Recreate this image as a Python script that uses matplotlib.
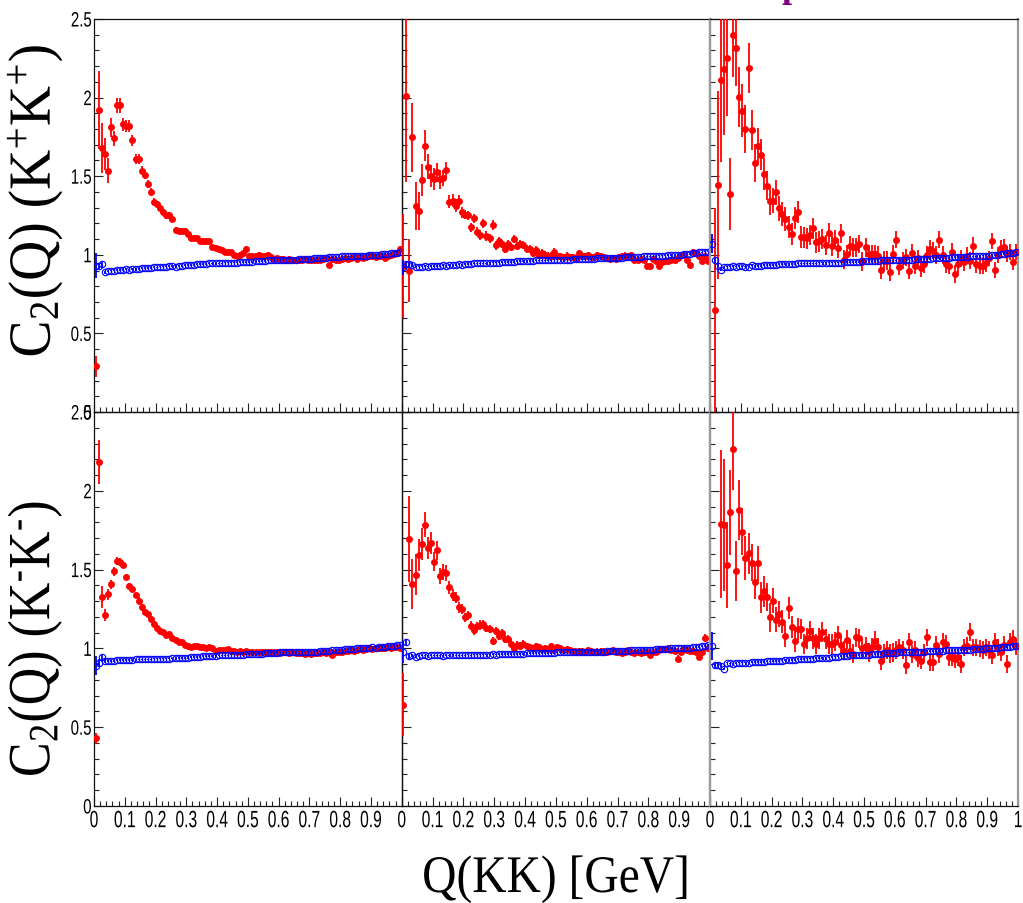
import numpy as np
import matplotlib
matplotlib.use("Agg")
import matplotlib.pyplot as plt
from matplotlib import font_manager
from matplotlib.ticker import MultipleLocator
from matplotlib.patheffects import AbstractPathEffect
from matplotlib.transforms import Affine2D

nan = np.nan

# ---------------- binning (100 bins of 0.01 GeV from 0 to 1) ----------------
bin_edges = np.linspace(0.0, 1.0, 101)
q_centers = 0.5 * (bin_edges[:-1] + bin_edges[1:])

# ---------------- K+K+ , column 1 ----------------
kpkp_c1_data = [
    0.29, 1.92, 1.68, 1.64, 1.535, 1.81, 1.74, 1.95, 1.95, 1.83,
    1.82, 1.82, 1.73, 1.61, 1.61, 1.535, 1.51, 1.45, 1.40, 1.335,
    1.32, 1.30, 1.275, 1.25, 1.25, 1.23, 1.16, 1.15, 1.15, 1.15,
    1.13, 1.105, 1.11, 1.105, 1.09, 1.09, 1.09, 1.085, 1.05, 1.045,
    1.04, 1.03, 1.02, 1.02, 1.015, 1.00, 0.995, 1.00, 1.01, 1.04,
    0.99, 0.995, 0.995, 1.00, 0.99, 0.99, 1.00, 0.984, 0.975, 0.98,
    0.975, 0.975, 0.97, 0.975, 0.97, 0.965, 0.97, 0.965, 0.975, 0.97,
    0.965, 0.965, 0.97, 0.97, 0.975, 0.98, 0.935, 0.975, 0.97, 0.965,
    0.975, 0.98, 0.975, 0.98, 0.985, 0.975, 0.985, 0.98, 0.985, 0.99,
    0.99, 0.985, 0.995, 0.99, 0.98, 0.995, 1.0, 1.005, 1.01, 1.04]
kpkp_c1_data_err = [
    0.065, 0.25, 0.16, 0.10, 0.08, 0.06, 0.05, 0.05, 0.05, 0.04,
    0.04, 0.04, 0.035, 0.03, 0.03, 0.03, 0.03, 0.025, 0.025, 0.025,
    0.025, 0.02, 0.02, 0.02, 0.02, 0.02, 0.02, 0.02, 0.02, 0.02,
    0.018, 0.018, 0.018, 0.018, 0.018, 0.016, 0.016, 0.016, 0.016, 0.016,
    0.015, 0.015, 0.015, 0.015, 0.015, 0.015, 0.015, 0.015, 0.015, 0.015,
    0.015, 0.015, 0.015, 0.015, 0.015, 0.015, 0.015, 0.015, 0.015, 0.015,
    0.015, 0.015, 0.015, 0.015, 0.015, 0.015, 0.015, 0.015, 0.015, 0.015,
    0.015, 0.015, 0.015, 0.015, 0.015, 0.015, 0.015, 0.015, 0.015, 0.015,
    0.015, 0.015, 0.015, 0.015, 0.015, 0.015, 0.015, 0.015, 0.015, 0.015,
    0.015, 0.015, 0.015, 0.015, 0.015, 0.015, 0.015, 0.015, 0.015, 0.015]
kpkp_c1_ref = [
    0.93, 0.93, 0.94, 0.89, 0.895, 0.90, 0.90, 0.905, 0.905, 0.905,
    0.91, 0.905, 0.91, 0.91, 0.91, 0.915, 0.915, 0.915, 0.915, 0.92,
    0.92, 0.925, 0.925, 0.925, 0.93, 0.93, 0.925, 0.93, 0.93, 0.935,
    0.935, 0.935, 0.935, 0.94, 0.94, 0.94, 0.94, 0.945, 0.945, 0.945,
    0.945, 0.945, 0.95, 0.95, 0.95, 0.95, 0.95, 0.955, 0.955, 0.955,
    0.955, 0.955, 0.96, 0.96, 0.96, 0.96, 0.965, 0.965, 0.965, 0.965,
    0.965, 0.97, 0.97, 0.97, 0.97, 0.97, 0.975, 0.975, 0.975, 0.975,
    0.975, 0.98, 0.98, 0.98, 0.98, 0.98, 0.985, 0.985, 0.985, 0.985,
    0.99, 0.99, 0.99, 0.99, 0.99, 0.995, 0.995, 0.995, 0.995, 1.0,
    1.0, 1.0, 1.0, 1.005, 1.005, 1.005, 1.01, 1.01, 1.01, 1.015]
kpkp_c1_ref_err = [
    0.08, 0.02, 0.015, 0.01, 0.005, 0.005, 0.005, 0.005, 0.005, 0.005,
    0.005, 0.005, 0.005, 0.005, 0.005, 0.005, 0.005, 0.005, 0.005, 0.005,
    0.005, 0.005, 0.005, 0.005, 0.005, 0.005, 0.005, 0.005, 0.005, 0.005,
    0.005, 0.005, 0.005, 0.005, 0.005, 0.005, 0.005, 0.005, 0.005, 0.005,
    0.005, 0.005, 0.005, 0.005, 0.005, 0.005, 0.005, 0.005, 0.005, 0.005,
    0.005, 0.005, 0.005, 0.005, 0.005, 0.005, 0.005, 0.005, 0.005, 0.005,
    0.005, 0.005, 0.005, 0.005, 0.005, 0.005, 0.005, 0.005, 0.005, 0.005,
    0.005, 0.005, 0.005, 0.005, 0.005, 0.005, 0.005, 0.005, 0.005, 0.005,
    0.005, 0.005, 0.005, 0.005, 0.005, 0.005, 0.005, 0.005, 0.005, 0.005,
    0.005, 0.005, 0.005, 0.005, 0.005, 0.005, 0.005, 0.005, 0.005, 0.005]

# ---------------- K+K+ , column 2 ----------------
kpkp_c2_data = [
    0.93, 2.01, 0.90, 1.747, 1.31, 1.28, 1.476, 1.694, 1.56, 1.50,
    1.48, 1.525, 1.48, 1.49, 1.54, 1.338, 1.345, 1.313, 1.345, 1.27,
    1.255, 1.25, 1.175, 1.232, 1.147, 1.126, 1.20, 1.12, 1.105, 1.19,
    1.06, 1.09, 1.07, 1.037, 1.07, 1.05, 1.10, 1.055, 1.07, 1.064,
    1.04, 1.04, 1.011, 1.03, 1.00, 1.01, 0.997, 0.99, 0.99, 1.02,
    0.99, 0.99, 0.985, 0.995, 0.985, 0.985, 0.98, 1.01, 0.995, 0.99,
    1.0, 0.985, 0.985, 1.0, 0.99, 0.985, 0.98, 0.975, 0.98, 0.975,
    0.985, 0.99, 0.995, 0.99, 1.0, 0.97, 0.97, 0.975, 0.97, 0.93,
    0.93, 0.975, 0.96, 0.93, 0.955, 0.96, 0.96, 0.965, 0.97, 0.98,
    1.0, 1.0, 0.965, 0.935, 1.02, 1.01, 0.995, 0.96, 0.99, 0.96]
kpkp_c2_data_err = [
    0.33, 0.55, 0.20, 0.22, 0.15, 0.12, 0.10, 0.10, 0.08, 0.07,
    0.07, 0.06, 0.06, 0.05, 0.05, 0.04, 0.04, 0.04, 0.035, 0.035,
    0.03, 0.03, 0.03, 0.03, 0.03, 0.03, 0.03, 0.03, 0.03, 0.03,
    0.03, 0.025, 0.025, 0.025, 0.025, 0.025, 0.025, 0.025, 0.025, 0.025,
    0.025, 0.025, 0.025, 0.025, 0.025, 0.025, 0.025, 0.025, 0.025, 0.025,
    0.02, 0.02, 0.02, 0.02, 0.02, 0.02, 0.02, 0.02, 0.02, 0.02,
    0.02, 0.02, 0.02, 0.02, 0.02, 0.02, 0.02, 0.02, 0.02, 0.02,
    0.02, 0.02, 0.02, 0.02, 0.02, 0.02, 0.02, 0.02, 0.02, 0.02,
    0.02, 0.02, 0.02, 0.02, 0.02, 0.02, 0.02, 0.02, 0.02, 0.02,
    0.02, 0.02, 0.02, 0.02, 0.02, 0.02, 0.02, 0.02, 0.02, 0.02]
kpkp_c2_ref = [
    0.92, 0.94, 0.94, 0.935, 0.92, 0.925, 0.925, 0.93, 0.925, 0.93,
    0.93, 0.93, 0.93, 0.935, 0.93, 0.935, 0.935, 0.935, 0.94, 0.935,
    0.94, 0.94, 0.94, 0.945, 0.945, 0.945, 0.945, 0.945, 0.95, 0.95,
    0.95, 0.95, 0.955, 0.955, 0.955, 0.955, 0.955, 0.96, 0.96, 0.96,
    0.96, 0.96, 0.96, 0.965, 0.965, 0.965, 0.965, 0.965, 0.965, 0.97,
    0.97, 0.97, 0.97, 0.97, 0.97, 0.972, 0.972, 0.975, 0.975, 0.975,
    0.975, 0.975, 0.975, 0.978, 0.978, 0.98, 0.98, 0.98, 0.98, 0.98,
    0.982, 0.982, 0.985, 0.985, 0.985, 0.985, 0.988, 0.988, 0.99, 0.99,
    0.99, 0.99, 0.992, 0.995, 0.995, 0.995, 0.997, 1.0, 1.0, 1.0,
    1.0, 1.003, 1.005, 1.005, 1.01, 1.01, 1.015, 1.015, 1.02, 1.02]
kpkp_c2_ref_err = [
    0.05, 0.02, 0.015, 0.01, 0.005, 0.005, 0.005, 0.005, 0.005, 0.005,
    0.005, 0.005, 0.005, 0.005, 0.005, 0.005, 0.005, 0.005, 0.005, 0.005,
    0.005, 0.005, 0.005, 0.005, 0.005, 0.005, 0.005, 0.005, 0.005, 0.005,
    0.005, 0.005, 0.005, 0.005, 0.005, 0.005, 0.005, 0.005, 0.005, 0.005,
    0.005, 0.005, 0.005, 0.005, 0.005, 0.005, 0.005, 0.005, 0.005, 0.005,
    0.005, 0.005, 0.005, 0.005, 0.005, 0.005, 0.005, 0.005, 0.005, 0.005,
    0.005, 0.005, 0.005, 0.005, 0.005, 0.005, 0.005, 0.005, 0.005, 0.005,
    0.005, 0.005, 0.005, 0.005, 0.005, 0.005, 0.005, 0.005, 0.005, 0.005,
    0.005, 0.005, 0.005, 0.005, 0.005, 0.005, 0.005, 0.005, 0.005, 0.005,
    0.005, 0.005, 0.005, 0.005, 0.005, 0.005, 0.005, 0.005, 0.005, 0.005]

# ---------------- K+K+ , column 3 ----------------
kpkp_c3_data = [
    nan, 0.65, 1.444, 2.11, 2.18, 2.25, 1.387, 2.40, 2.315, 2.006,
    1.917, 1.80, 2.19, 1.794, 1.582, 1.694, 1.637, 1.514, 1.44, 1.344,
    1.344, 1.397, 1.296, 1.26, 1.228, 1.179, 1.132, 1.232, 1.27, 1.111,
    1.111, 1.105, 1.126, 1.168, 1.079, 1.085, 1.10, 1.062, 1.137, 1.058,
    1.096, 1.041, 1.137, 0.969, 1.005, 1.058, 1.048, 1.048, 1.069, 0.956,
    1.048, 1.005, 1.005, 1.005, 0.994, 0.905, 0.963, 0.963, 0.893, 1.005,
    1.096, 0.925, 0.963, 0.984, 0.899, 1.011, 0.931, 0.977, 0.914, 0.941,
    0.999, 1.037, 1.026, 0.999, 1.096, 0.999, 0.941, 0.931, 1.02, 0.878,
    0.941, 0.977, 0.952, 0.994, 0.963, 1.058, 0.941, 0.931, 0.931, 0.948,
    0.977, 1.09, 0.905, 0.999, 1.041, 1.048, 1.005, 1.016, 0.952, 1.016]
kpkp_c3_data_err = [
    0.0, 0.65, 0.60, 0.52, 0.42, 0.37, 0.23, 0.27, 0.24, 0.19,
    0.17, 0.15, 0.16, 0.13, 0.12, 0.11, 0.10, 0.10, 0.09, 0.09,
    0.08, 0.08, 0.08, 0.075, 0.075, 0.07, 0.07, 0.07, 0.07, 0.07,
    0.065, 0.065, 0.065, 0.065, 0.065, 0.065, 0.065, 0.065, 0.065, 0.065,
    0.06, 0.06, 0.06, 0.06, 0.06, 0.06, 0.06, 0.06, 0.06, 0.06,
    0.06, 0.06, 0.06, 0.06, 0.06, 0.06, 0.06, 0.06, 0.06, 0.06,
    0.055, 0.055, 0.055, 0.055, 0.055, 0.055, 0.055, 0.055, 0.055, 0.055,
    0.055, 0.055, 0.055, 0.055, 0.055, 0.055, 0.055, 0.055, 0.055, 0.055,
    0.055, 0.055, 0.055, 0.055, 0.055, 0.055, 0.055, 0.055, 0.055, 0.055,
    0.05, 0.05, 0.05, 0.05, 0.05, 0.05, 0.05, 0.05, 0.05, 0.05]
kpkp_c3_ref = [
    1.07, 0.967, 0.93, 0.905, 0.92, 0.925, 0.925, 0.93, 0.925, 0.93,
    0.93, 0.925, 0.925, 0.935, 0.93, 0.93, 0.93, 0.935, 0.935, 0.935,
    0.935, 0.935, 0.94, 0.94, 0.94, 0.94, 0.94, 0.94, 0.945, 0.945,
    0.945, 0.945, 0.945, 0.945, 0.945, 0.95, 0.95, 0.95, 0.95, 0.95,
    0.95, 0.95, 0.95, 0.952, 0.955, 0.955, 0.955, 0.955, 0.955, 0.96,
    0.96, 0.96, 0.96, 0.96, 0.96, 0.965, 0.965, 0.965, 0.965, 0.965,
    0.965, 0.97, 0.97, 0.97, 0.97, 0.97, 0.975, 0.975, 0.975, 0.975,
    0.975, 0.975, 0.98, 0.98, 0.98, 0.98, 0.98, 0.98, 0.985, 0.985,
    0.985, 0.985, 0.985, 0.985, 0.99, 0.99, 0.99, 0.99, 0.995, 0.995,
    0.995, 1.0, 1.0, 1.0, 1.005, 1.005, 1.01, 1.01, 1.01, 1.015]
kpkp_c3_ref_err = [
    0.06, 0.02, 0.015, 0.01, 0.008, 0.005, 0.005, 0.005, 0.005, 0.005,
    0.005, 0.005, 0.005, 0.005, 0.005, 0.005, 0.005, 0.005, 0.005, 0.005,
    0.005, 0.005, 0.005, 0.005, 0.005, 0.005, 0.005, 0.005, 0.005, 0.005,
    0.005, 0.005, 0.005, 0.005, 0.005, 0.005, 0.005, 0.005, 0.005, 0.005,
    0.005, 0.005, 0.005, 0.005, 0.005, 0.005, 0.005, 0.005, 0.005, 0.005,
    0.005, 0.005, 0.005, 0.005, 0.005, 0.005, 0.005, 0.005, 0.005, 0.005,
    0.005, 0.005, 0.005, 0.005, 0.005, 0.005, 0.005, 0.005, 0.005, 0.005,
    0.005, 0.005, 0.005, 0.005, 0.005, 0.005, 0.005, 0.005, 0.005, 0.005,
    0.005, 0.005, 0.005, 0.005, 0.005, 0.005, 0.005, 0.005, 0.005, 0.005,
    0.005, 0.005, 0.005, 0.005, 0.005, 0.005, 0.005, 0.005, 0.005, 0.005]

# ---------------- K-K- , column 1 ----------------
kmkm_c1_data = [
    0.43, 2.18, 1.324, 1.212, 1.345, 1.407, 1.489, 1.553, 1.547, 1.532,
    1.451, 1.394, 1.377, 1.339, 1.303, 1.26, 1.229, 1.218, 1.187, 1.155,
    1.127, 1.113, 1.102, 1.085, 1.091, 1.064, 1.053, 1.043, 1.043, 1.022,
    1.013, 1.007, 1.013, 1.013, 1.007, 1.007, 1.0, 1.007, 1.0, 0.986,
    0.99, 0.99, 0.99, 0.995, 0.985, 0.985, 0.98, 0.985, 0.98, 0.985,
    0.98, 0.975, 0.98, 0.975, 0.98, 0.975, 0.975, 0.98, 0.975, 0.975,
    0.97, 0.975, 0.975, 0.97, 0.975, 0.97, 0.97, 0.97, 0.965, 0.97,
    0.965, 0.97, 0.97, 0.97, 0.975, 0.97, 0.975, 0.955, 0.975, 0.98,
    0.98, 0.985, 0.985, 0.99, 0.985, 0.99, 0.995, 0.99, 0.995, 1.0,
    0.995, 1.0, 1.005, 1.0, 1.005, 1.01, 1.005, 1.01, 1.01, 1.0]
kmkm_c1_data_err = [
    0.035, 0.14, 0.07, 0.04, 0.035, 0.03, 0.03, 0.025, 0.025, 0.025,
    0.02, 0.02, 0.02, 0.02, 0.02, 0.02, 0.02, 0.02, 0.02, 0.02,
    0.015, 0.015, 0.015, 0.015, 0.015, 0.015, 0.015, 0.015, 0.015, 0.015,
    0.015, 0.015, 0.015, 0.015, 0.015, 0.015, 0.015, 0.015, 0.015, 0.015,
    0.012, 0.012, 0.012, 0.012, 0.012, 0.012, 0.012, 0.012, 0.012, 0.012,
    0.012, 0.012, 0.012, 0.012, 0.012, 0.012, 0.012, 0.012, 0.012, 0.012,
    0.01, 0.01, 0.01, 0.01, 0.01, 0.01, 0.01, 0.01, 0.01, 0.01,
    0.01, 0.01, 0.01, 0.01, 0.01, 0.01, 0.01, 0.01, 0.01, 0.01,
    0.01, 0.01, 0.01, 0.01, 0.01, 0.01, 0.01, 0.01, 0.01, 0.01,
    0.01, 0.01, 0.01, 0.01, 0.01, 0.01, 0.01, 0.01, 0.01, 0.01]
kmkm_c1_ref = [
    0.89, 0.91, 0.943, 0.92, 0.92, 0.92, 0.92, 0.925, 0.925, 0.925,
    0.925, 0.925, 0.925, 0.93, 0.93, 0.93, 0.93, 0.93, 0.93, 0.935,
    0.935, 0.935, 0.935, 0.935, 0.935, 0.937, 0.94, 0.94, 0.94, 0.94,
    0.94, 0.945, 0.945, 0.945, 0.945, 0.95, 0.95, 0.95, 0.95, 0.95,
    0.955, 0.955, 0.955, 0.955, 0.96, 0.96, 0.96, 0.96, 0.96, 0.965,
    0.964, 0.965, 0.965, 0.965, 0.965, 0.97, 0.97, 0.97, 0.97, 0.97,
    0.975, 0.975, 0.975, 0.975, 0.975, 0.975, 0.975, 0.98, 0.98, 0.98,
    0.98, 0.98, 0.98, 0.985, 0.985, 0.985, 0.985, 0.99, 0.99, 0.99,
    0.99, 0.995, 0.995, 0.995, 0.995, 1.0, 1.0, 1.0, 1.0, 1.005,
    1.007, 1.005, 1.01, 1.01, 1.01, 1.015, 1.015, 1.015, 1.02, 1.02]
kmkm_c1_ref_err = [
    0.06, 0.02, 0.015, 0.01, 0.005, 0.005, 0.005, 0.005, 0.005, 0.005,
    0.005, 0.005, 0.005, 0.005, 0.005, 0.005, 0.005, 0.005, 0.005, 0.005,
    0.005, 0.005, 0.005, 0.005, 0.005, 0.005, 0.005, 0.005, 0.005, 0.005,
    0.005, 0.005, 0.005, 0.005, 0.005, 0.005, 0.005, 0.005, 0.005, 0.005,
    0.005, 0.005, 0.005, 0.005, 0.005, 0.005, 0.005, 0.005, 0.005, 0.005,
    0.005, 0.005, 0.005, 0.005, 0.005, 0.005, 0.005, 0.005, 0.005, 0.005,
    0.005, 0.005, 0.005, 0.005, 0.005, 0.005, 0.005, 0.005, 0.005, 0.005,
    0.005, 0.005, 0.005, 0.005, 0.005, 0.005, 0.005, 0.005, 0.005, 0.005,
    0.005, 0.005, 0.005, 0.005, 0.005, 0.005, 0.005, 0.005, 0.005, 0.005,
    0.005, 0.005, 0.005, 0.005, 0.005, 0.005, 0.005, 0.005, 0.005, 0.005]

# ---------------- K-K- , column 2 ----------------
kmkm_c2_data = [
    0.641, nan, 1.694, 1.409, 1.466, 1.593, 1.662, 1.785, 1.635, 1.667,
    1.55, 1.624, 1.461, 1.483, 1.478, 1.388, 1.339, 1.32, 1.26, 1.25,
    1.197, 1.21, 1.144, 1.117, 1.14, 1.148, 1.152, 1.127, 1.123, 1.049,
    1.11, 1.08, 1.095, 1.062, 1.06, 1.028, 1.0, 1.022, 1.017, 1.028,
    1.017, 1.007, 1.0, 1.013, 1.007, 0.996, 1.0, 0.994, 1.013, 0.99,
    1.007, 1.0, 0.99, 0.995, 0.99, 0.985, 0.98, 0.985, 0.985, 0.975,
    0.99, 0.985, 0.975, 0.98, 0.985, 0.98, 0.975, 0.985, 0.99, 0.975,
    0.98, 0.97, 0.975, 0.99, 0.975, 0.97, 0.975, 0.97, 0.98, 0.975,
    0.96, 0.975, 0.98, 0.99, 0.995, 0.995, 1.0, 0.99, 0.985, 0.935,
    0.98, 0.995, 0.99, 0.985, 0.985, 0.975, 0.947, 0.975, 1.065, 1.0]
kmkm_c2_data_err = [
    0.20, 0.0, 0.27, 0.16, 0.13, 0.10, 0.10, 0.08, 0.07, 0.07,
    0.06, 0.06, 0.05, 0.05, 0.05, 0.04, 0.04, 0.035, 0.035, 0.03,
    0.03, 0.03, 0.03, 0.03, 0.03, 0.03, 0.03, 0.025, 0.025, 0.025,
    0.025, 0.025, 0.025, 0.025, 0.025, 0.025, 0.025, 0.025, 0.025, 0.025,
    0.02, 0.02, 0.02, 0.02, 0.02, 0.02, 0.02, 0.02, 0.02, 0.02,
    0.02, 0.02, 0.02, 0.02, 0.02, 0.02, 0.02, 0.02, 0.02, 0.02,
    0.02, 0.02, 0.02, 0.02, 0.02, 0.02, 0.02, 0.02, 0.02, 0.02,
    0.02, 0.02, 0.02, 0.02, 0.02, 0.02, 0.02, 0.02, 0.02, 0.02,
    0.02, 0.02, 0.02, 0.02, 0.02, 0.02, 0.02, 0.02, 0.02, 0.02,
    0.02, 0.02, 0.02, 0.02, 0.02, 0.02, 0.02, 0.02, 0.025, 0.025]
kmkm_c2_ref = [
    0.975, 1.04, 0.95, 0.955, 0.945, 0.95, 0.955, 0.955, 0.95, 0.955,
    0.955, 0.955, 0.955, 0.95, 0.955, 0.955, 0.955, 0.955, 0.955, 0.955,
    0.955, 0.96, 0.955, 0.96, 0.96, 0.96, 0.96, 0.96, 0.96, 0.964,
    0.96, 0.964, 0.964, 0.964, 0.965, 0.965, 0.965, 0.965, 0.965, 0.965,
    0.97, 0.97, 0.97, 0.97, 0.97, 0.97, 0.97, 0.972, 0.972, 0.972,
    0.975, 0.975, 0.975, 0.975, 0.975, 0.975, 0.975, 0.975, 0.978, 0.978,
    0.978, 0.98, 0.98, 0.98, 0.98, 0.98, 0.982, 0.982, 0.982, 0.985,
    0.985, 0.985, 0.985, 0.985, 0.988, 0.988, 0.988, 0.99, 0.99, 0.99,
    0.99, 0.992, 0.995, 0.995, 0.995, 0.995, 0.998, 1.0, 1.0, 1.0,
    1.0, 1.003, 1.005, 1.005, 1.007, 1.01, 1.01, 1.015, 1.017, 1.02]
kmkm_c2_ref_err = [
    0.07, 0.02, 0.015, 0.01, 0.005, 0.005, 0.005, 0.005, 0.005, 0.005,
    0.005, 0.005, 0.005, 0.005, 0.005, 0.005, 0.005, 0.005, 0.005, 0.005,
    0.005, 0.005, 0.005, 0.005, 0.005, 0.005, 0.005, 0.005, 0.005, 0.005,
    0.005, 0.005, 0.005, 0.005, 0.005, 0.005, 0.005, 0.005, 0.005, 0.005,
    0.005, 0.005, 0.005, 0.005, 0.005, 0.005, 0.005, 0.005, 0.005, 0.005,
    0.005, 0.005, 0.005, 0.005, 0.005, 0.005, 0.005, 0.005, 0.005, 0.005,
    0.005, 0.005, 0.005, 0.005, 0.005, 0.005, 0.005, 0.005, 0.005, 0.005,
    0.005, 0.005, 0.005, 0.005, 0.005, 0.005, 0.005, 0.005, 0.005, 0.005,
    0.005, 0.005, 0.005, 0.005, 0.005, 0.005, 0.005, 0.005, 0.005, 0.005,
    0.005, 0.005, 0.005, 0.005, 0.005, 0.005, 0.005, 0.005, 0.005, 0.005]

# ---------------- K-K- , column 3 ----------------
kmkm_c3_data = [
    nan, nan, nan, 1.789, 1.783, 1.529, 1.863, 2.265, 1.489, 1.878,
    1.741, 1.571, 1.604, 1.545, 1.424, 1.54, 1.324, 1.362, 1.328, 1.197,
    1.303, 1.182, 1.218, 1.17, 1.081, 1.256, 1.138, 1.049, 1.123, 1.123,
    1.028, 1.064, 1.11, 1.064, 1.028, 1.064, 1.104, 1.06, 1.028, 1.028,
    1.043, 1.085, 1.022, 0.986, 1.055, 0.986, 0.965, 1.07, 1.064, 1.0,
    1.013, 0.975, 1.007, 1.049, 1.007, 0.92, 0.97, 0.99, 0.97, 0.975,
    0.99, 1.007, 0.99, 0.895, 1.043, 0.965, 0.99, 0.937, 0.922, 0.975,
    1.07, 0.912, 0.912, 1.022, 0.965, 1.043, 1.028, 0.944, 0.944, 0.933,
    0.944, 0.90, 1.007, 1.017, 1.104, 1.007, 1.007, 1.0, 0.99, 1.007,
    0.99, 0.958, 1.043, 1.007, 0.975, 1.022, 0.90, 1.043, 1.06, 1.013]
kmkm_c3_data_err = [
    0.0, 0.0, 0.0, 0.47, 0.42, 0.27, 0.27, 0.26, 0.19, 0.19,
    0.15, 0.14, 0.13, 0.12, 0.11, 0.11, 0.10, 0.10, 0.09, 0.09,
    0.08, 0.08, 0.08, 0.075, 0.075, 0.07, 0.07, 0.07, 0.07, 0.065,
    0.065, 0.065, 0.065, 0.065, 0.065, 0.065, 0.065, 0.065, 0.065, 0.065,
    0.06, 0.06, 0.06, 0.06, 0.06, 0.06, 0.06, 0.06, 0.06, 0.06,
    0.06, 0.06, 0.06, 0.06, 0.06, 0.06, 0.06, 0.06, 0.06, 0.06,
    0.055, 0.055, 0.055, 0.055, 0.055, 0.055, 0.055, 0.055, 0.055, 0.055,
    0.055, 0.055, 0.055, 0.055, 0.055, 0.055, 0.055, 0.055, 0.055, 0.055,
    0.055, 0.055, 0.055, 0.055, 0.055, 0.055, 0.055, 0.055, 0.055, 0.055,
    0.055, 0.055, 0.055, 0.055, 0.055, 0.055, 0.055, 0.055, 0.055, 0.055]
kmkm_c3_ref = [
    1.017, 0.895, 0.895, 0.89, 0.87, 0.91, 0.905, 0.90, 0.905, 0.91,
    0.91, 0.91, 0.91, 0.912, 0.915, 0.915, 0.915, 0.915, 0.918, 0.918,
    0.92, 0.92, 0.92, 0.922, 0.925, 0.925, 0.925, 0.928, 0.93, 0.933,
    0.933, 0.935, 0.935, 0.935, 0.938, 0.94, 0.94, 0.94, 0.942, 0.945,
    0.948, 0.948, 0.95, 0.95, 0.952, 0.955, 0.955, 0.955, 0.958, 0.958,
    0.96, 0.96, 0.962, 0.965, 0.965, 0.965, 0.968, 0.97, 0.97, 0.97,
    0.972, 0.975, 0.975, 0.975, 0.975, 0.978, 0.978, 0.98, 0.98, 0.98,
    0.982, 0.982, 0.985, 0.985, 0.985, 0.985, 0.988, 0.988, 0.99, 0.99,
    0.99, 0.99, 0.99, 0.99, 0.992, 0.995, 0.995, 0.995, 0.998, 1.0,
    1.0, 1.002, 1.005, 1.005, 1.008, 1.01, 1.01, 1.012, 1.015, 1.017]
kmkm_c3_ref_err = [
    0.09, 0.02, 0.015, 0.01, 0.008, 0.005, 0.005, 0.005, 0.005, 0.005,
    0.005, 0.005, 0.005, 0.005, 0.005, 0.005, 0.005, 0.005, 0.005, 0.005,
    0.005, 0.005, 0.005, 0.005, 0.005, 0.005, 0.005, 0.005, 0.005, 0.005,
    0.005, 0.005, 0.005, 0.005, 0.005, 0.005, 0.005, 0.005, 0.005, 0.005,
    0.005, 0.005, 0.005, 0.005, 0.005, 0.005, 0.005, 0.005, 0.005, 0.005,
    0.005, 0.005, 0.005, 0.005, 0.005, 0.005, 0.005, 0.005, 0.005, 0.005,
    0.005, 0.005, 0.005, 0.005, 0.005, 0.005, 0.005, 0.005, 0.005, 0.005,
    0.005, 0.005, 0.005, 0.005, 0.005, 0.005, 0.005, 0.005, 0.005, 0.005,
    0.005, 0.005, 0.005, 0.005, 0.005, 0.005, 0.005, 0.005, 0.005, 0.005,
    0.005, 0.005, 0.005, 0.005, 0.005, 0.005, 0.005, 0.005, 0.005, 0.005]

# ---------------- labels ----------------
y_titles = ["C$_2$(Q) (K$^{+}$K$^{+}$)", "C$_2$(Q) (K$^{\u2010}$K$^{\u2010}$)"]
x_title = "Q(KK) [GeV]"
ytick_values = [0.0, 0.5, 1.0, 1.5, 2.0, 2.5]
ytick_labels = ["0", "0.5", "1", "1.5", "2", "2.5"]
xtick_values = [0.0, 0.1, 0.2, 0.3, 0.4, 0.5, 0.6, 0.7, 0.8, 0.9, 1.0]
xtick_labels = ["0", "0.1", "0.2", "0.3", "0.4", "0.5", "0.6", "0.7", "0.8", "0.9", "1"]

panels = [
    [(kpkp_c1_data, kpkp_c1_data_err, kpkp_c1_ref, kpkp_c1_ref_err),
     (kpkp_c2_data, kpkp_c2_data_err, kpkp_c2_ref, kpkp_c2_ref_err),
     (kpkp_c3_data, kpkp_c3_data_err, kpkp_c3_ref, kpkp_c3_ref_err)],
    [(kmkm_c1_data, kmkm_c1_data_err, kmkm_c1_ref, kmkm_c1_ref_err),
     (kmkm_c2_data, kmkm_c2_data_err, kmkm_c2_ref, kmkm_c2_ref_err),
     (kmkm_c3_data, kmkm_c3_data_err, kmkm_c3_ref, kmkm_c3_ref_err)],
]


class Squeeze(AbstractPathEffect):
    """Draw text glyphs horizontally condensed (along the text direction)."""

    def __init__(self, sx=0.7, anchor="center"):
        super().__init__()
        self.sx = sx
        self.anchor = anchor

    def draw_path(self, renderer, gc, tpath, affine, rgbFace=None):
        if tpath is None or len(tpath.vertices) == 0:
            return
        ext = tpath.get_extents()
        if self.anchor == "right":
            cx = ext.x1
        elif self.anchor == "left":
            cx = ext.x0
        else:
            cx = 0.5 * (ext.x0 + ext.x1)
        pre = Affine2D().translate(-cx, 0).scale(self.sx, 1.0).translate(cx, 0)
        renderer.draw_path(gc, tpath, pre + affine, rgbFace)


# ---------------- fonts ----------------
available = {f.name for f in font_manager.fontManager.ttflist}
tick_family = "Liberation Sans Narrow" if "Liberation Sans Narrow" in available else "Liberation Sans"
tick_sx = 1.0 if tick_family == "Liberation Sans Narrow" else 0.66
serif_family = "Liberation Serif" if "Liberation Serif" in available else "DejaVu Serif"
plt.rcParams["mathtext.fontset"] = "custom"
plt.rcParams["mathtext.rm"] = serif_family
plt.rcParams["mathtext.it"] = serif_family + ":italic"
plt.rcParams["mathtext.bf"] = serif_family + ":bold"

W, H = 1023, 904
fig = plt.figure(figsize=(W / 100, H / 100), dpi=100)
fig.patch.set_facecolor("white")

col_left = [94, 401.7, 710]
col_right = [401.7, 710, 1018]
row_top = [20, 413]
row_bot = [413, 807]

for r in range(2):
    for c in range(3):
        x0, x1 = col_left[c], col_right[c]
        y0, y1 = row_top[r], row_bot[r]
        ax = fig.add_axes([x0 / W, 1 - y1 / H, (x1 - x0) / W, (y1 - y0) / H])
        ax.set_facecolor("none")
        data, derr, ref, rerr = panels[r][c]
        ax.errorbar(q_centers, data, yerr=derr, fmt="o", color="#ff0000",
                    ms=5.0, mew=0, elinewidth=1.3, capsize=0, zorder=3)
        ax.errorbar(q_centers, ref, yerr=rerr, fmt="o", mfc="none", mec="#0000ff",
                    ecolor="#0000ff", ms=4.6, mew=0.8, elinewidth=1.3, capsize=0, zorder=4)
        ax.set_xlim(0, 1)
        ax.set_ylim(0, 2.5)
        ax.xaxis.set_minor_locator(MultipleLocator(0.02))
        ax.yaxis.set_minor_locator(MultipleLocator(0.1))
        ax.tick_params(which="both", direction="in", top=False, right=False,
                       color="#222222", width=0.8)
        ax.tick_params(which="major", length=6.5)
        ax.tick_params(which="minor", length=3.5)
        ax.set_yticks(ytick_values)
        if c == 0:
            ax.set_yticklabels(ytick_labels, fontsize=15, family=tick_family)
            ax.tick_params(axis="y", pad=1.5)
            for lab in ax.yaxis.get_majorticklabels():
                lab.set_path_effects([Squeeze(min(1.0, tick_sx + 0.06), "right")])
        else:
            ax.set_yticklabels([])
        ax.set_xticks(xtick_values)
        if r == 1:
            labs = list(xtick_labels)
            if c < 2:
                labs[-1] = ""
            ax.set_xticklabels(labs, fontsize=17, family=tick_family)
            ax.tick_params(axis="x", pad=3)
            for lab in ax.xaxis.get_majorticklabels():
                lab.set_path_effects([Squeeze(tick_sx, "center")])
        else:
            ax.set_xticklabels([])
        for s in ax.spines.values():
            s.set_linewidth(0.9)
            s.set_color("#111111")
        if c == 1:
            ax.spines["right"].set_color("#9a9a9a")
            ax.spines["right"].set_linewidth(1.6)
        if c == 2:
            ax.spines["left"].set_color("#9a9a9a")
            ax.spines["left"].set_linewidth(1.6)
            ax.spines["right"].set_color("#9a9a9a")
            ax.spines["right"].set_linewidth(1.6)

# axis titles
for txt, yc, sx in zip(y_titles, [202, 640], [0.93, 0.87]):
    t = fig.text(35 / W, 1 - yc / H, txt, rotation=90, ha="center", va="center",
                 fontsize=43, family=serif_family)
    t.set_path_effects([Squeeze(sx, "center")])
tx = fig.text(556 / W, 1 - 893 / H, x_title, ha="center", va="baseline",
              fontsize=38, family=serif_family)
tx.set_path_effects([Squeeze(0.9, "center")])

# clipped purple glyph at top edge (rest of a title cut off by the canvas)
fig.text(782 / W, 1 + 3 / H, "p", ha="left", va="baseline", color="#800080",
         fontsize=26, family=serif_family, weight="bold")

fig.savefig("out.png", dpi=100, facecolor="white")
